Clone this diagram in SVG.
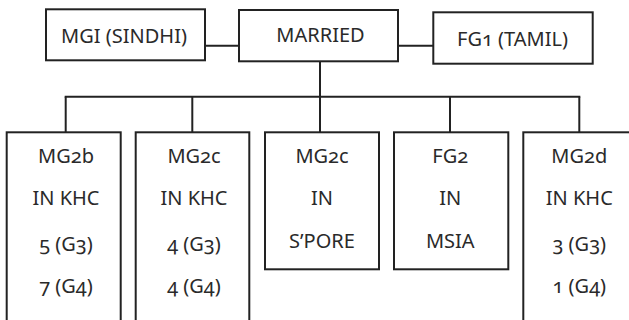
<svg xmlns="http://www.w3.org/2000/svg" width="629" height="320" viewBox="0 0 629 320">
<style>
rect{fill:#fff;stroke:#222;stroke-width:2}
.c line{stroke:#222;stroke-width:2}
text{font-family:"Noto Sans","Liberation Sans",sans-serif;font-size:20px;fill:#2a2a2a;text-anchor:middle;font-variant-numeric:oldstyle-nums;font-feature-settings:"onum"}
</style>
<rect x="0" y="0" width="629" height="320" style="stroke:none"/>
<g class="c" id="connectors">
<line x1="205" y1="45.7" x2="239" y2="45.7"/>
<line x1="398" y1="45.7" x2="433" y2="45.7"/>
<line x1="320" y1="61.3" x2="320" y2="96.7"/>
<line x1="64.7" y1="96.7" x2="580.3" y2="96.7"/>
<line x1="65.7" y1="96.7" x2="65.7" y2="132.3"/>
<line x1="192.3" y1="96.7" x2="192.3" y2="132.3"/>
<line x1="320" y1="96.7" x2="320" y2="132.3"/>
<line x1="450" y1="96.7" x2="450" y2="132.3"/>
<line x1="579.3" y1="96.7" x2="579.3" y2="132.3"/>
</g>
<g id="mgi"><rect x="46" y="9.3" width="159" height="51"/><text x="124" y="42.5">MGI (SINDHI)</text></g>
<g id="married"><rect x="239" y="10" width="159" height="51.3"/><text x="320.5" y="41.7">MARRIED</text></g>
<g id="fg1"><rect x="433.3" y="12.3" width="159.4" height="51.4"/><text x="512.5" y="45.5">FG1 (TAMIL)</text></g>
<g id="mg2b"><rect x="6.7" y="132.3" width="114" height="200"/>
<text x="66" y="163.3">MG2b</text><text x="66" y="205.3">IN KHC</text><text x="66" y="250.5">5 (G3)</text><text x="66" y="293.3">7 (G4)</text></g>
<g id="mg2c-khc"><rect x="135.7" y="132.3" width="113.6" height="200"/>
<text x="194" y="163.3">MG2c</text><text x="194" y="205.3">IN KHC</text><text x="194" y="250.5">4 (G3)</text><text x="194" y="293.3">4 (G4)</text></g>
<g id="mg2c-spore"><rect x="265" y="132.3" width="114" height="137"/>
<text x="322" y="163.3">MG2c</text><text x="322" y="205.3">IN</text><text x="322" y="247.7">S’PORE</text></g>
<g id="fg2"><rect x="394" y="132.3" width="114.3" height="137"/>
<text x="450.3" y="163.3">FG2</text><text x="450.3" y="205.3">IN</text><text x="450.3" y="247.7">MSIA</text></g>
<g id="mg2d"><rect x="523.3" y="132.3" width="114" height="200"/>
<text x="579.3" y="163.3">MG2d</text><text x="579.3" y="205.3">IN KHC</text><text x="579.3" y="250.5">3 (G3)</text><text x="579.3" y="293.3">1 (G4)</text></g>
</svg>
